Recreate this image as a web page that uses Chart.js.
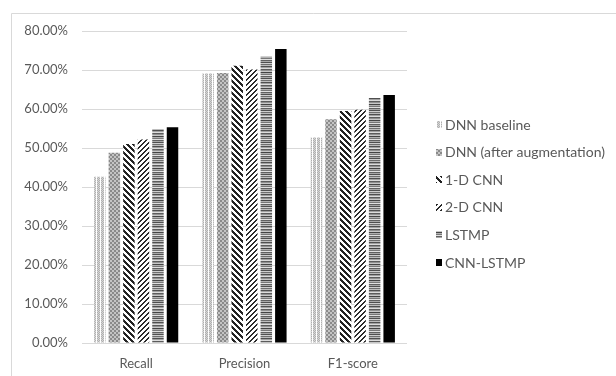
<!DOCTYPE html>
<html>
<head>
<meta charset="utf-8">
<script src="https://cdn.jsdelivr.net/npm/chart.js@4/dist/chart.umd.min.js"></script>
<style>
  html, body { margin: 0; padding: 0; background: #fff; }
  #wrap { position: relative; width: 616px; height: 376px; }
  canvas { display: block; }
</style>
</head>
<body>
<div id="wrap"><canvas id="c" width="616" height="376"></canvas></div>
<script>
// Metric groups on the x axis
const categories = ['Recall', 'Precision', 'F1-score'];
// Model names, in legend order
const seriesNames = ['DNN baseline', 'DNN (after augmentation)', '1-D CNN', '2-D CNN', 'LSTMP', 'CNN-LSTMP'];
// Scores per model (fractions), one value per metric
const dnnBaseline  = [0.426, 0.691, 0.527];
const dnnAugmented = [0.488, 0.692, 0.574];
const cnn1d        = [0.510, 0.711, 0.595];
const cnn2d        = [0.522, 0.701, 0.598];
const lstmp        = [0.549, 0.734, 0.628];
const cnnLstmp     = [0.553, 0.754, 0.636];
// Y axis ticks
const yTicks = [0, 0.1, 0.2, 0.3, 0.4, 0.5, 0.6, 0.7, 0.8];

const FONT = 'Lato, "Open Sans", sans-serif';
const TEXT = '#595959';
const GRID = '#d9d9d9';

// ---- hatch fills -------------------------------------------------------
function makeTile(w, h, paint) {
  const c = document.createElement('canvas');
  c.width = w; c.height = h;
  const g = c.getContext('2d');
  g.fillStyle = '#fff';
  g.fillRect(0, 0, w, h);
  paint(g, w, h);
  return document.getElementById('c').getContext('2d').createPattern(c, 'repeat');
}
function px(g, x, y, col) { g.fillStyle = col; g.fillRect(x, y, 1, 1); }

// light dotted vertical columns
const fillBaseline = makeTile(4, 2, g => {
  for (let x = 1; x < 4; x++) {
    px(g, x, 0, x % 2 ? '#b0b0b0' : '#d6d6d6');
    px(g, x, 1, x % 2 ? '#d6d6d6' : '#b0b0b0');
  }
});
// medium grey dotted grid
const fillAugmented = makeTile(4, 4, g => {
  g.fillStyle = '#8a8a8a';
  g.fillRect(0, 0, 2, 2);
  g.fillRect(2, 2, 2, 2);
  g.fillStyle = '#c4c4c4';
  g.fillRect(2, 0, 2, 2);
  g.fillRect(0, 2, 2, 2);
});
// dark downward diagonal
const fillCnn1d = makeTile(6, 6, g => {
  for (let y = 0; y < 6; y++) {
    for (let k = 0; k < 3; k++) px(g, (y + k) % 6, y, '#222');
  }
});
// dark upward diagonal
const fillCnn2d = makeTile(5, 5, g => {
  for (let y = 0; y < 5; y++) {
    for (let k = 0; k < 2; k++) px(g, (10 - y + k) % 5, y, '#2a2a2a');
  }
});
// horizontal streaks in varying greys
const streakGreys = ['#6e6e6e', '#bdbdbd', '#4f4f4f', '#a0a0a0', '#dcdcdc', '#5c5c5c', '#909090', '#c8c8c8',
                     '#444444', '#b0b0b0', '#777777', '#e0e0e0', '#606060', '#a8a8a8', '#505050', '#cfcfcf'];
const fillLstmp = makeTile(1, streakGreys.length, g => {
  streakGreys.forEach((col, y) => px(g, 0, y, col));
});

const fills = [fillBaseline, fillAugmented, fillCnn1d, fillCnn2d, fillLstmp, '#000000'];
const seriesValues = [dnnBaseline, dnnAugmented, cnn1d, cnn2d, lstmp, cnnLstmp];

// ---- frame and legend --------------------------------------------------
const framePlugin = {
  id: 'frame',
  beforeDraw(chart) {
    const ctx = chart.ctx;
    ctx.save();
    ctx.fillStyle = '#fff';
    ctx.fillRect(0, 0, chart.width, chart.height);
    ctx.strokeStyle = '#d9d9d9';
    ctx.lineWidth = 1;
    ctx.beginPath();
    ctx.moveTo(11.5, chart.height);
    ctx.lineTo(11.5, 13.5);
    ctx.lineTo(chart.width, 13.5);
    ctx.stroke();
    ctx.restore();
  }
};

const sideLegend = {
  id: 'sideLegend',
  afterDraw(chart) {
    const ctx = chart.ctx;
    const x0 = chart.chartArea.right + 29;
    const yStart = 125, step = 27.6;
    ctx.save();
    ctx.font = '14px ' + FONT;
    ctx.textBaseline = 'middle';
    ctx.textAlign = 'left';
    chart.data.datasets.forEach((ds, i) => {
      const y = yStart + i * step;
      ctx.fillStyle = ds.backgroundColor;
      ctx.fillRect(x0, Math.round(y - 4), 6, 7);
      ctx.fillStyle = TEXT;
      ctx.fillText(ds.label, x0 + 9, y);
    });
    ctx.restore();
  }
};

new Chart(document.getElementById('c'), {
  type: 'bar',
  data: {
    labels: categories,
    datasets: seriesNames.map((name, i) => ({
      label: name,
      data: seriesValues[i],
      backgroundColor: fills[i],
      borderWidth: 0,
      categoryPercentage: 0.805,
      barPercentage: 0.79
    }))
  },
  options: {
    responsive: false,
    devicePixelRatio: 1,
    animation: false,
    layout: { padding: { left: 10, right: 209, top: 31, bottom: 0 } },
    plugins: { legend: { display: false }, tooltip: { enabled: false } },
    scales: {
      x: {
        grid: { display: false },
        border: { display: false },
        ticks: { color: TEXT, font: { family: FONT, size: 13 }, padding: 5 },
        afterFit(scale) { scale.height = 33; }
      },
      y: {
        min: 0,
        max: 0.8,
        afterBuildTicks(scale) { scale.ticks = yTicks.map(v => ({ value: v })); },
        grid: { color: GRID, drawTicks: false },
        border: { display: false },
        ticks: {
          color: TEXT,
          font: { family: FONT, size: 13 },
          padding: 14,
          callback: v => (v * 100).toFixed(2) + '%'
        },
        afterFit(scale) { scale.width = 72; }
      }
    }
  },
  plugins: [framePlugin, sideLegend]
});
</script>
</body>
</html>
